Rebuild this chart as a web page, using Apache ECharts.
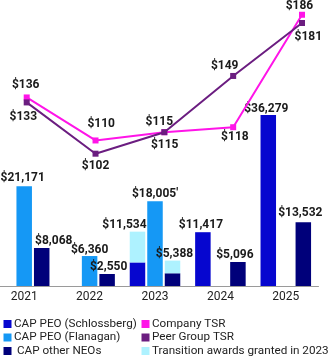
<!DOCTYPE html>
<html>
<head>
<meta charset="utf-8">
<script src="https://cdn.jsdelivr.net/npm/echarts@6/dist/echarts.min.js"></script>
<style>
html,body{margin:0;padding:0;background:#fff;}
#chart{width:328px;height:356px;}
</style>
</head>
<body>
<div id="chart"></div>
<script>
// ---- data ----
const years = ['2021', '2022', '2023', '2024', '2025'];
const capSchlossberg = [null, null, 5000, 11417, 36279];
const transitionSchlossberg = [null, null, 6534, null, null];
const capFlanagan = [21171, 6360, 18005, null, null];
const capOtherNeos = [8068, 2550, 2700, 5096, 13532];
const transitionNeos = [null, null, 2688, null, null];
const companyTsr = [136, 110, 115, 118, 186];
const peerTsr = [133, 102, 115, 149, 181];
const flanaganNote = ['', '', "'", '', ''];
const legendLeft = ['CAP PEO (Schlossberg)', 'CAP PEO (Flanagan)', 'CAP other NEOs'];
const legendRight = ['Company TSR', 'Peer Group TSR', 'Transition awards granted in 2023'];

// ---- styling ----
const FONT = 'Roboto';
const C = {
  schl: '#0606CF', flan: '#1598F5', neo: '#00007A', trans: '#AEF2FF',
  company: '#FF14E8', peer: '#6B1D80', text: '#1a1a1a'
};
const money = v => '$' + Number(v).toLocaleString('en-US');

const barLabelBase = { show: true, position: 'top', distance: 1, fontFamily: FONT, fontWeight: 'bold', fontSize: 12, color: C.text };

const offSchl = [[0,0],[0,0],[0,0],[-2,0],[-2,1]];
const offFlan = [[-1.5,-1],[0,1],[0,0],[0,0],[0,0]];
const offNeo  = [[12,0],[1.5,0],[0,0],[-3,0],[-3,-2]];
const offTransSchl = [[0,0],[0,0],[-13,0],[0,0],[0,0]];
const offTransNeo  = [[0,0],[0,0],[2,0],[0,0],[0,0]];

function barData(values, offsets, showFn, textFn) {
  return values.map((v, i) => {
    if (v == null) return '-';
    const show = showFn(i);
    return {
      value: v,
      label: show ? Object.assign({}, barLabelBase, { offset: offsets[i], formatter: () => textFn(i) }) : { show: false }
    };
  });
}

const lineLabelBase = { show: true, position: 'inside', fontFamily: FONT, fontWeight: 'bold', fontSize: 12, color: C.text };
const offCompany = [[-1,-12.7],[5.7,-16.7],[-5,-10.3],[1.7,9.4],[-2.6,-9]];
const offPeer = [[-3.4,14.3],[0,12.7],[0.3,13],[-8.5,-10],[6.3,13.7]];
function lineData(values, offsets) {
  return values.map((v, i) => ({
    value: v,
    label: Object.assign({}, lineLabelBase, { offset: offsets[i], formatter: money(v) })
  }));
}

const barCommon = { type: 'bar', xAxisIndex: 0, yAxisIndex: 0, barWidth: 15.5, barGap: '13%' };
const legendText = { fontFamily: FONT, fontSize: 11.7, lineHeight: 12, color: '#222', padding: [0, 0, 0, -2.5] };

const chart = echarts.init(document.getElementById('chart'), null, { renderer: 'canvas' });
chart.setOption({
  animation: false,
  textStyle: { fontFamily: FONT },
  grid: [
    { left: -8.5, width: 327, top: 0, height: 286, outerBoundsMode: 'none', containLabel: false },
    { left: 26.7, width: 275.3, top: -8.4, height: 165.4, outerBoundsMode: 'none', containLabel: false }
  ],
  xAxis: [
    {
      type: 'category', gridIndex: 0, data: years,
      axisLine: { lineStyle: { color: '#9a9a9a', width: 1 } },
      axisTick: { show: false },
      axisLabel: { fontFamily: FONT, fontSize: 12, color: '#222', margin: 5 }
    },
    { type: 'category', gridIndex: 1, data: years, boundaryGap: false, show: false }
  ],
  yAxis: [
    { type: 'value', gridIndex: 0, min: 0, max: 60700, show: false, splitLine: { show: false } },
    { type: 'value', gridIndex: 1, min: 100, max: 200, show: false, splitLine: { show: false } }
  ],
  legend: [
    {
      data: legendLeft, orient: 'vertical', left: 3.5, top: 318, height: 50,
      icon: 'rect', itemWidth: 8, itemHeight: 8, itemGap: 1.5, padding: 0,
      selectedMode: false,
      formatter: n => (n === 'CAP other NEOs' ? ' ' + n : n),
      textStyle: legendText
    },
    {
      data: legendRight, orient: 'vertical', left: 141.5, top: 318, height: 50,
      icon: 'rect', itemWidth: 8, itemHeight: 8, itemGap: 1.5, padding: 0,
      selectedMode: false,
      textStyle: legendText
    }
  ],
  series: [
    Object.assign({}, barCommon, {
      name: 'CAP PEO (Schlossberg)', stack: 'schl', itemStyle: { color: C.schl },
      data: barData(capSchlossberg, offSchl, i => transitionSchlossberg[i] == null, i => money(capSchlossberg[i]))
    }),
    Object.assign({}, barCommon, {
      name: 'CAP PEO (Flanagan)', itemStyle: { color: C.flan },
      data: barData(capFlanagan, offFlan, () => true, i => money(capFlanagan[i]) + flanaganNote[i])
    }),
    Object.assign({}, barCommon, {
      name: 'CAP other NEOs', stack: 'neo', itemStyle: { color: C.neo },
      data: barData(capOtherNeos, offNeo, i => transitionNeos[i] == null, i => money(capOtherNeos[i]))
    }),
    Object.assign({}, barCommon, {
      name: 'Transition awards granted in 2023', stack: 'schl', itemStyle: { color: C.trans },
      data: barData(transitionSchlossberg, offTransSchl, () => true, i => money(capSchlossberg[i] + transitionSchlossberg[i]))
    }),
    Object.assign({}, barCommon, {
      name: 'Transition awards granted in 2023', stack: 'neo', itemStyle: { color: C.trans },
      data: barData(transitionNeos, offTransNeo, () => true, i => money(capOtherNeos[i] + transitionNeos[i]))
    }),
    {
      name: 'Company TSR', type: 'line', xAxisIndex: 1, yAxisIndex: 1,
      symbol: 'rect', symbolSize: 6, z: 5,
      lineStyle: { color: C.company, width: 2 }, itemStyle: { color: C.company },
      data: lineData(companyTsr, offCompany)
    },
    {
      name: 'Peer Group TSR', type: 'line', xAxisIndex: 1, yAxisIndex: 1,
      symbol: 'rect', symbolSize: 6, z: 6,
      lineStyle: { color: C.peer, width: 2 }, itemStyle: { color: C.peer },
      data: lineData(peerTsr, offPeer)
    }
  ]
});
</script>
</body>
</html>
